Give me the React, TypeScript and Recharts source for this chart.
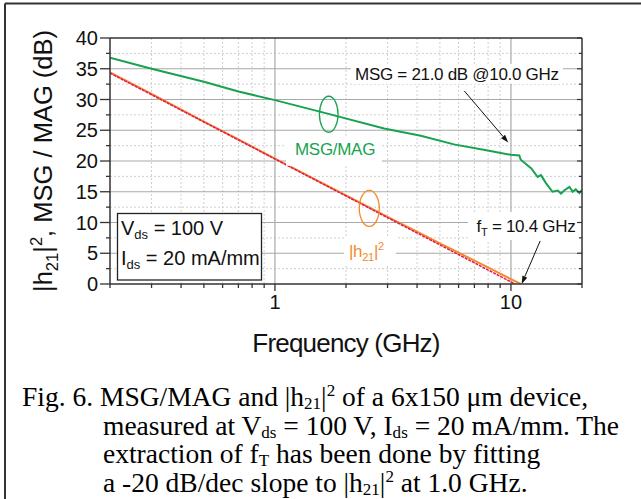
import React from "react";
import {
  LineChart,
  Line,
  XAxis,
  YAxis,
  CartesianGrid,
  ReferenceDot,
  ReferenceLine,
} from "recharts";

// MSG/MAG, measured
const msgFreq = [
  0.2, 0.3, 0.5, 0.7, 1.0, 1.67, 2.9, 4.15, 5.73, 7.97, 10.0, 10.85, 11.0,
  12.2, 12.97, 13.4, 14.07, 15.0, 15.8, 16.3, 16.8, 17.7, 18.25, 18.8, 19.5,
  20.0,
];
const msgDb = [
  36.8, 35.0, 32.9, 31.3, 29.9, 27.7, 25.3, 24.1, 22.7, 21.7, 21.0, 20.9,
  20.2, 18.8, 17.4, 17.7, 16.4, 15.0, 15.2, 14.7, 15.2, 15.8, 15.0, 15.4,
  14.8, 15.3,
];

// |h21|^2, measured
const h21Freq = [
  0.2, 0.3, 0.5, 0.7, 1.0, 1.5, 2.0, 3.0, 4.0, 5.0, 6.0, 7.0, 8.0, 9.0, 10.0,
  11.0,
];
const h21Db = [
  34.4, 30.9, 26.4, 23.5, 20.4, 16.9, 14.4, 10.9, 8.5, 6.6, 5.1, 3.8, 2.7, 1.7,
  0.8, 0.0,
];

// -20 dB/dec fit through 1 GHz, crossing 0 dB at fT
const fitFreq = [0.2, 10.4];
const fitDb = [34.3, 0];

const freqMajor = [1, 10];
const freqMinor = [0.3, 0.4, 0.5, 0.6, 0.7, 0.8, 0.9, 2, 3, 4, 5, 6, 7, 8, 9];
const freqTicks = [0.2, ...freqMinor, ...freqMajor, 20].sort((a, b) => a - b);
const dbMajor = [0, 5, 10, 15, 20, 25, 30, 35, 40];
const dbMinor = [2.5, 7.5, 12.5, 17.5, 22.5, 27.5, 32.5, 37.5];
const dbTicks = [...dbMajor, ...dbMinor].sort((a, b) => a - b);

const msgData = msgFreq.map((f, i) => ({ f, db: msgDb[i] }));
const h21Data = h21Freq.map((f, i) => ({ f, db: h21Db[i] }));
const fitData = fitFreq.map((f, i) => ({ f, db: fitDb[i] }));

const GREEN = "#17a250";
const ORANGE = "#f28a2e";
const RED = "#e4184a";
const AXIS = "#333";
const SANS = "'Liberation Sans', Arial, sans-serif";
const SERIF = "'Liberation Serif', 'Times New Roman', serif";

type Seg = [string, ("sub" | "sup")?];

// text with sub/superscripts as tspans
function rich(segs: Seg[], size: number, sub = 0.22, sup = -0.4, small = 0.65) {
  let shift = 0;
  return segs.map(([t, k], i) => {
    const target = k === "sub" ? size * sub : k === "sup" ? size * sup : 0;
    const dy = target - shift;
    shift = target;
    return (
      <tspan key={i} dy={dy} fontSize={k ? size * small : size}>
        {t}
      </tspan>
    );
  });
}

function BottomTick(p: any) {
  const { x, y, payload } = p;
  const major = freqMajor.includes(payload.value);
  return (
    <g>
      <line x1={x} x2={x} y1={y} y2={y + (major ? 7 : 4)} stroke={AXIS} strokeWidth={1.3} />
      {major && (
        <text x={x} y={y + 25} textAnchor="middle" fontSize={20} fill="#111">
          {payload.value}
        </text>
      )}
    </g>
  );
}

function TopTick(p: any) {
  const { x, y, payload } = p;
  const major = freqMajor.includes(payload.value);
  return <line x1={x} x2={x} y1={y} y2={y + (major ? 5 : 3)} stroke={AXIS} strokeWidth={1.2} />;
}

function LeftTick(p: any) {
  const { x, y, payload } = p;
  const major = payload.value % 5 === 0;
  return (
    <g>
      <line x1={x - (major ? 10 : 4)} x2={x} y1={y} y2={y} stroke={AXIS} strokeWidth={1.3} />
      {major && (
        <text x={x - 12} y={y + 7} textAnchor="end" fontSize={20} fill="#111">
          {payload.value}
        </text>
      )}
    </g>
  );
}

function RightTick(p: any) {
  const { x, y, payload } = p;
  const major = payload.value % 5 === 0;
  return <line x1={x} x2={x - (major ? 5 : 3)} y1={y} y2={y} stroke={AXIS} strokeWidth={1.2} />;
}

function Arrow(p: any) {
  const { x1, y1, x2, y2 } = p;
  const a = Math.atan2(y2 - y1, x2 - x1);
  const len = 8;
  const w = 2.6;
  const bx = x2 - len * Math.cos(a);
  const by = y2 - len * Math.sin(a);
  const pts = [
    [x2, y2],
    [bx + w * Math.sin(a), by - w * Math.cos(a)],
    [bx - w * Math.sin(a), by + w * Math.cos(a)],
  ]
    .map((q) => q.join(","))
    .join(" ");
  return (
    <g>
      <line x1={x1} y1={y1} x2={bx} y2={by} stroke="#111" strokeWidth={1} />
      <polygon points={pts} fill="#111" />
    </g>
  );
}

function ring(color: string, rx: number, ry: number) {
  return (p: any) => (
    <ellipse cx={p.cx} cy={p.cy} rx={rx} ry={ry} fill="none" stroke={color} strokeWidth={1.3} />
  );
}

// label with a white backing box: box = [left, top, right, bottom] offsets
function note(segs: Seg[], color: string, box: number[], size = 17) {
  return (p: any) => (
    <g>
      <rect
        x={p.cx + box[0]}
        y={p.cy + box[1]}
        width={box[2] - box[0]}
        height={box[3] - box[1]}
        fill="#fff"
      />
      <text x={p.cx} y={p.cy} textAnchor="middle" fill={color} fontSize={size} letterSpacing={-0.3}>
        {rich(segs, size)}
      </text>
    </g>
  );
}

const caption: { x: number; y: number; segs: Seg[] }[] = [
  {
    x: 22,
    y: 406,
    segs: [["Fig. 6. MSG/MAG and |h"], ["21", "sub"], ["|"], ["2", "sup"], [" of a 6x150 μm device,"]],
  },
  {
    x: 103,
    y: 434.5,
    segs: [["measured at V"], ["ds", "sub"], [" = 100 V, I"], ["ds", "sub"], [" = 20 mA/mm. The"]],
  },
  {
    x: 103,
    y: 463,
    segs: [["extraction of f"], ["T", "sub"], [" has been done by fitting"]],
  },
  {
    x: 103,
    y: 491.5,
    segs: [["a -20 dB/dec slope to |h"], ["21", "sub"], ["|"], ["2", "sup"], [" at 1.0 GHz."]],
  },
];

export default function App() {
  const logAxis = {
    type: "number" as const,
    scale: "log" as const,
    domain: [0.2, 20],
    allowDataOverflow: true,
    ticks: freqTicks,
    interval: 0 as const,
    tickLine: false,
    tickSize: 0,
    tickMargin: 0,
    axisLine: { stroke: AXIS, strokeWidth: 1.5 },
  };
  const dbAxis = {
    type: "number" as const,
    domain: [0, 40],
    allowDataOverflow: true,
    ticks: dbTicks,
    interval: 0 as const,
    tickLine: false,
    tickSize: 0,
    tickMargin: 0,
    axisLine: { stroke: AXIS, strokeWidth: 1.5 },
  };

  return (
    <div
      style={{
        position: "absolute",
        left: 0,
        top: 0,
        width: 641,
        height: 499,
        background: "#fff",
        overflow: "hidden",
        fontFamily: SANS,
      }}
    >
      <LineChart width={641} height={330} margin={{ top: 28, right: 49, bottom: 6, left: 60 }}>
        <CartesianGrid
          horizontalValues={dbMinor}
          verticalValues={freqMinor}
          stroke="#cfcfcf"
          strokeDasharray="2 2"
        />
        <CartesianGrid
          horizontalValues={[5, 10, 15, 20, 25, 30, 35]}
          verticalValues={freqMajor}
          stroke="#a9a9a9"
          strokeWidth={1.2}
        />
        <XAxis dataKey="f" {...logAxis} height={40} tick={(p: any) => <BottomTick {...p} />} />
        <XAxis xAxisId="top" orientation="top" {...logAxis} height={10} tick={(p: any) => <TopTick {...p} />} />
        <YAxis {...dbAxis} width={50} tick={(p: any) => <LeftTick {...p} />} />
        <YAxis yAxisId="right" orientation="right" {...dbAxis} width={10} tick={(p: any) => <RightTick {...p} />} />

        <ReferenceDot x={5.9} y={33.2} r={0} shape={note([["MSG = 21.0 dB @10.0 GHz"]], "#111", [-106, -16, 106, 4])} />
        <ReferenceDot x={1.797} y={21.0} r={0} shape={note([["MSG/MAG"]], GREEN, [-49, -17, 47, 11])} />
        <ReferenceDot
          x={2.44}
          y={4.39}
          r={0}
          shape={note([["|h"], ["21", "sub"], ["|"], ["2", "sup"]], ORANGE, [-22.5, -20, 29.5, 9])}
        />
        <ReferenceDot
          x={11.58}
          y={8.46}
          r={0}
          shape={note([["f"], ["T", "sub"], [" = 10.4 GHz"]], "#111", [-58, -20, 53, 8])}
        />

        <Line data={msgData} dataKey="db" type="linear" stroke={GREEN} strokeWidth={2} dot={false} isAnimationActive={false} />
        <Line data={h21Data} dataKey="db" type="linear" stroke={ORANGE} strokeWidth={2} dot={false} isAnimationActive={false} />
        <Line
          data={fitData}
          dataKey="db"
          type="linear"
          stroke={RED}
          strokeWidth={1.5}
          strokeDasharray="3 1"
          dot={false}
          isAnimationActive={false}
        />

        <ReferenceDot x={1.69} y={27.6} r={0} shape={ring(GREEN, 9.3, 18)} />
        <ReferenceDot x={2.51} y={12.3} r={0} shape={ring(ORANGE, 10, 18)} />
        <ReferenceLine segment={[{ x: 6.34, y: 31.4 }, { x: 9.74, y: 23.0 }]} shape={Arrow} />
        <ReferenceLine segment={[{ x: 13.3, y: 7.0 }, { x: 11.1, y: 0 }]} shape={Arrow} />
      </LineChart>

      <svg width={641} height={499} style={{ position: "absolute", left: 0, top: 0, pointerEvents: "none" }}>
        {/* frame */}
        <line x1={5} y1={3.5} x2={641} y2={3.5} stroke="#333" strokeWidth={2} />
        <line x1={5} y1={3.5} x2={5} y2={499} stroke="#333" strokeWidth={2} />

        {/* bias box */}
        <rect x={117.5} y={213.5} width={144} height={66.5} fill="#fff" stroke="#222" strokeWidth={1.3} />
        <text x={121} y={235} fontSize={20} fill="#111">
          {rich([["V"], ["ds", "sub"], [" = 100 V"]], 20)}
        </text>
        <text x={121} y={265} fontSize={20} fill="#111">
          {rich([["I"], ["ds", "sub"], [" = 20 mA/mm"]], 20)}
        </text>

        {/* axis titles */}
        <text transform="translate(52,161) rotate(-90)" textAnchor="middle" fontSize={25.5} fill="#111">
          {rich([["|h"], ["21", "sub"], ["|"], ["2", "sup"], [", MSG / MAG (dB)"]], 25.5)}
        </text>
        <text x={346} y={352} textAnchor="middle" fontSize={26} letterSpacing={-0.8} fill="#111">
          Frequency (GHz)
        </text>

        {/* caption */}
        <g fontFamily={SERIF} fill="#000">
          {caption.map((c, i) => (
            <text key={i} x={c.x} y={c.y} fontSize={27.5}>
              {rich(c.segs, 27.5, 0.12, -0.36, 0.62)}
            </text>
          ))}
        </g>
      </svg>
    </div>
  );
}
